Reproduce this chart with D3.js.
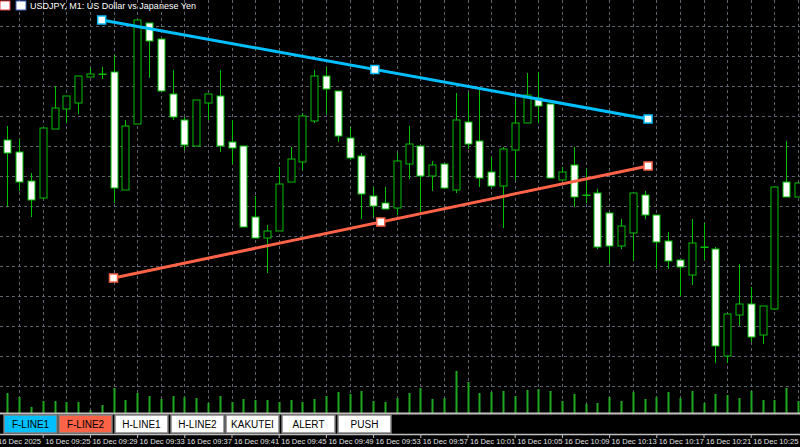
<!DOCTYPE html>
<html>
<head>
<meta charset="utf-8">
<script src="https://cdn.jsdelivr.net/npm/d3@7"></script>
<style>
  body { margin: 0; background: #000; }
  text { font-family: "Liberation Sans", Arial, sans-serif; }
</style>
</head>
<body>
<script>
// USDJPY M1 candles, one per minute from 16 Dec 09:22
var opens  = [154.960,154.948,154.919,154.902,154.971,154.991,154.997,155.023,155.026,155.028,154.910,154.976,155.077,155.061,155.006,154.980,154.954,154.997,155.004,154.958,154.954,154.883,154.862,154.869,154.918,154.938,154.979,155.024,155.009,154.962,154.944,154.904,154.897,154.892,154.936,154.954,154.924,154.936,154.910,154.978,154.959,154.928,154.914,154.950,154.977,155.002,154.996,154.920,154.935,154.905,154.907,154.887,154.854,154.867,154.905,154.885,154.859,154.840,154.825,154.853,154.851,154.744,154.785,154.796,154.765,154.791,154.918,154.903];
var highs  = [154.974,154.961,154.927,154.972,155.014,155.004,155.024,155.032,155.033,155.045,154.980,155.080,155.077,155.061,155.030,154.983,155.000,155.006,155.030,154.980,154.954,154.904,154.875,154.933,154.953,154.987,155.030,155.033,155.009,154.973,154.947,154.913,154.913,154.947,154.974,154.954,154.939,154.936,155.007,155.007,155.010,154.943,154.953,155.001,155.027,155.028,154.996,154.933,154.953,154.931,154.911,154.887,154.881,154.907,154.909,154.885,154.868,154.840,154.881,154.877,154.853,154.786,154.836,154.813,154.794,154.913,154.959,154.917];
var lows   = [154.893,154.909,154.883,154.901,154.971,154.977,154.986,155.023,155.021,154.897,154.910,154.976,155.022,155.009,154.980,154.950,154.954,154.980,154.948,154.936,154.873,154.862,154.827,154.869,154.918,154.930,154.977,154.986,154.958,154.940,154.881,154.883,154.891,154.885,154.921,154.888,154.909,154.912,154.907,154.951,154.913,154.912,154.872,154.920,154.977,154.977,154.922,154.920,154.893,154.897,154.851,154.836,154.851,154.839,154.881,154.831,154.831,154.804,154.815,154.840,154.737,154.737,154.774,154.758,154.756,154.790,154.903,154.903];
var closes = [154.947,154.918,154.900,154.972,154.992,155.004,155.024,155.026,155.026,154.912,154.974,155.080,155.059,155.009,154.983,154.955,155.000,155.006,154.954,154.952,154.873,154.862,154.869,154.916,154.941,154.984,155.024,155.011,154.964,154.942,154.906,154.894,154.891,154.939,154.956,154.924,154.935,154.912,154.980,154.956,154.922,154.914,154.951,154.977,155.005,154.994,154.922,154.928,154.903,154.905,154.853,154.854,154.874,154.907,154.885,154.858,154.839,154.833,154.857,154.853,154.754,154.786,154.796,154.763,154.794,154.913,154.903,154.917];
var volumes = [40,32,12,24,24,22,22,6,16,50,26,40,34,28,34,32,30,20,34,22,28,26,26,22,26,22,28,34,42,38,44,24,22,30,40,50,28,30,84,62,40,42,44,34,46,48,44,24,38,18,20,32,24,42,28,32,42,30,44,20,38,36,30,44,26,26,50,24];

// time axis labels, every 4 bars from bar 3 (the first one shows the date)
var tickIdx = [-1,3,7,11,15,19,23,27,31,35,39,43,47,51,55,59,63];
var tickLabels = ["16 Dec 2025","16 Dec 09:25","16 Dec 09:29","16 Dec 09:33","16 Dec 09:37","16 Dec 09:41","16 Dec 09:45","16 Dec 09:49","16 Dec 09:53","16 Dec 09:57","16 Dec 10:01","16 Dec 10:05","16 Dec 10:09","16 Dec 10:13","16 Dec 10:17","16 Dec 10:21","16 Dec 10:25"];

// trend lines: [barIndex, price] start / end
var fline1 = [[8, 155.080], [54.3, 154.981]];
var fline2 = [[9, 154.822], [54.3, 154.934]];

var buttons = ["F-LINE1","F-LINE2","H-LINE1","H-LINE2","KAKUTEI","ALERT","PUSH"];
var buttonColors = ["#00bfff","#ff6347","#fff","#fff","#fff","#fff","#fff"];

var w = 800, h = 447;
var svg = d3.select("body").append("svg").attr("width", w).attr("height", h)
    .style("background", "#000");

var x = d3.scaleLinear().domain([0, 1]).range([7.3, 19.1]);
var y = d3.scaleLinear().domain([155.100, 154.653]).range([0, 447]);
var yv = d3.scaleLinear().domain([0, 100]).range([413, 363]);

var gridC = "#5f6570";
// grid
var gx = d3.range(1, 68, 2);
svg.append("g").selectAll("line").data(gx).enter().append("line")
    .attr("x1", function(d){ return Math.round(x(d)) + 0.5; })
    .attr("x2", function(d){ return Math.round(x(d)) + 0.5; })
    .attr("y1", 0).attr("y2", 413)
    .attr("stroke", gridC).attr("stroke-dasharray", "3,3");
var gy = d3.range(0, 13).map(function(k){ return 155.074 - 0.030 * k; });
svg.append("g").selectAll("line").data(gy).enter().append("line")
    .attr("x1", 0).attr("x2", w)
    .attr("y1", function(d){ return Math.round(y(d)) + 0.5; })
    .attr("y2", function(d){ return Math.round(y(d)) + 0.5; })
    .attr("stroke", gridC).attr("stroke-dasharray", "3,3");

// volumes
svg.append("g").selectAll("line").data(volumes).enter().append("line")
    .attr("x1", function(d, i){ return Math.round(x(i)) + 0.5; })
    .attr("x2", function(d, i){ return Math.round(x(i)) + 0.5; })
    .attr("y1", yv(0)).attr("y2", function(d){ return yv(d); })
    .attr("stroke", "#1fa81f").attr("stroke-width", 2);

// candles
var idx = d3.range(opens.length);
var cg = svg.append("g").selectAll("g").data(idx).enter().append("g");
cg.append("line")
    .attr("x1", function(i){ return Math.round(x(i)) + 0.5; })
    .attr("x2", function(i){ return Math.round(x(i)) + 0.5; })
    .attr("y1", function(i){ return y(highs[i]); })
    .attr("y2", function(i){ return y(lows[i]); })
    .attr("stroke", "#00c000");
cg.append("rect")
    .attr("x", function(i){ return Math.round(x(i)) - 3; })
    .attr("width", 7)
    .attr("y", function(i){ return y(Math.max(opens[i], closes[i])); })
    .attr("height", function(i){ return Math.max(0.5, Math.abs(y(opens[i]) - y(closes[i]))); })
    .attr("fill", function(i){ return closes[i] < opens[i] ? "#fff" : "#000"; })
    .attr("stroke", "#00c000").attr("stroke-width", 1);

// trend lines with handles
function trend(pts, col) {
  var p = pts.map(function(d){ return [x(d[0]), y(d[1])]; });
  svg.append("line").attr("x1", p[0][0]).attr("y1", p[0][1]).attr("x2", p[1][0]).attr("y2", p[1][1])
      .attr("stroke", col).attr("stroke-width", 3);
  var hs = [p[0], [(p[0][0] + p[1][0]) / 2, (p[0][1] + p[1][1]) / 2], p[1]];
  svg.append("g").selectAll("rect").data(hs).enter().append("rect")
      .attr("x", function(d){ return d[0] - 4; }).attr("y", function(d){ return d[1] - 4; })
      .attr("width", 8).attr("height", 8)
      .attr("fill", "#fff").attr("stroke", col).attr("stroke-width", 1.5);
}
trend(fline1, "#00bfff");
trend(fline2, "#ff6347");

// bottom frame
svg.append("line").attr("x1", 0).attr("x2", w).attr("y1", 413.5).attr("y2", 413.5).attr("stroke", "#c0c0c0").attr("stroke-width", 2);
svg.append("rect").attr("x", 0).attr("y", 415).attr("width", w).attr("height", 19).attr("fill", "#000");
svg.append("line").attr("x1", 0).attr("x2", w).attr("y1", 434.5).attr("y2", 434.5).attr("stroke", "#c0c0c0").attr("stroke-width", 1.5);

// buttons
var bx = [4, 59, 115, 171, 226, 282, 338];
var bg = svg.append("g").selectAll("g").data(buttons).enter().append("g")
    .attr("transform", function(d, i){ return "translate(" + bx[i] + ",415)"; });
bg.append("rect").attr("width", 53).attr("height", 18)
    .attr("fill", function(d, i){ return buttonColors[i]; })
    .attr("stroke", "#808080").attr("stroke-width", 1.5);
bg.append("text").attr("x", 26.5).attr("y", 13).attr("text-anchor", "middle")
    .attr("font-size", 10).attr("fill", "#000").text(function(d){ return d; });

// time axis
var xAxis = d3.axisBottom(x).tickValues(tickIdx)
    .tickFormat(function(d, i){ return tickLabels[i]; }).tickSize(4).tickPadding(2);
var ax = svg.append("g").attr("transform", "translate(0,434)").call(xAxis);
ax.select(".domain").remove();
ax.attr("font-family", null).attr("font-size", null).attr("text-anchor", null);
ax.selectAll("line").attr("stroke", "#c0c0c0");
ax.selectAll("text").attr("fill", "#e0e0e0").style("font-size", "7.6px")
    .attr("text-anchor", "start").attr("x", 2).attr("dy", "0.5em");

// title
svg.append("rect").attr("x", 0).attr("y", 1).attr("width", 10).attr("height", 9).attr("fill", "#fff").attr("stroke", "#e04040");
svg.append("rect").attr("x", 16).attr("y", 1).attr("width", 10).attr("height", 9).attr("fill", "#fff").attr("stroke", "#4060c0");
svg.append("text").attr("x", 30).attr("y", 9).attr("font-size", 9).attr("fill", "#fff")
    .text("USDJPY, M1:  US Dollar vs Japanese Yen");
</script>
</body>
</html>
